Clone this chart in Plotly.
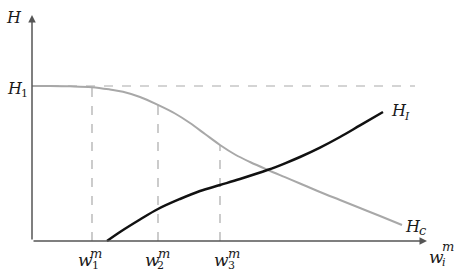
import numpy as np
import plotly.graph_objects as go

# Data (x: w_i^m units, y: H units)
hc_x = [0, 1.8, 3.8, 6.0, 7.8, 9.1, 10.8, 12.6, 14.3, 15.8, 17.3, 18.8, 20.3, 21.8, 23.6, 25.3, 26.8, 28.8, 30.8, 32.8, 34.8, 37.0]
hc_y = [15.5, 15.5, 15.47, 15.38, 15.15, 14.93, 14.4, 13.6, 12.75, 11.8, 10.7, 9.6, 8.65, 7.9, 7.1, 6.38, 5.75, 4.9, 4.1, 3.3, 2.5, 1.6]
hi_x = [7.5, 8.8, 10.8, 12.6, 14.8, 16.8, 18.8, 20.8, 23.6, 25.3, 26.8, 28.8, 30.8, 32.8, 35.1]
hi_y = [0.0, 0.9, 2.15, 3.2, 4.2, 5.0, 5.6, 6.2, 7.12, 7.77, 8.4, 9.34, 10.4, 11.56, 12.9]
H1 = 15.5
w_marks = [6.0, 12.6, 18.8]
w_subs = ["1", "2", "3"]

FONT = "DejaVu Serif"
gray = "#aaaaaa"
axis_col = "#555555"
txt = "#1a1a1a"

fig = go.Figure()

fig.add_trace(go.Scatter(x=[0, 38.3], y=[H1, H1], mode="lines",
                         line=dict(color=gray, width=1.2, dash="dash"), hoverinfo="skip"))
for wx in w_marks:
    top = float(np.interp(wx, hc_x, hc_y))
    fig.add_trace(go.Scatter(x=[wx, wx], y=[0, top], mode="lines",
                             line=dict(color=gray, width=1.2, dash="dash"), hoverinfo="skip"))

fig.add_trace(go.Scatter(x=hc_x, y=hc_y, mode="lines",
                         line=dict(color="#a8a8a8", width=2, shape="spline", smoothing=1.0),
                         hoverinfo="skip"))
fig.add_trace(go.Scatter(x=hi_x, y=hi_y, mode="lines",
                         line=dict(color="#111111", width=2.5, shape="spline", smoothing=1.0),
                         hoverinfo="skip"))

ann = []
ann.append(dict(x=0, y=22.6, ax=0, ay=0, xref="x", yref="y", axref="x", ayref="y",
                showarrow=True, arrowhead=2, arrowsize=1, arrowwidth=1.5, arrowcolor=axis_col, text=""))
ann.append(dict(x=39.5, y=0, ax=0, ay=0, xref="x", yref="y", axref="x", ayref="y",
                showarrow=True, arrowhead=2, arrowsize=1, arrowwidth=1.5, arrowcolor=axis_col, text=""))

def lab(x, y, text, size):
    ann.append(dict(x=x, y=y, xref="x", yref="y", text=text, showarrow=False, borderpad=0,
                    font=dict(family=FONT, size=size, color=txt), xanchor="center", yanchor="middle"))

MAIN, SUP, SUB = 16, 13, 11
lab(-1.85, 22.4, "<i>H</i>", MAIN)
lab(-1.75, 15.3, "<i>H</i>", MAIN)
lab(-0.75, 14.75, "1", SUB)
lab(36.65, 13.05, "<i>H</i>", MAIN)
lab(37.5, 12.45, "<i>I</i>", SUB)
lab(38.1, 1.5, "<i>H</i>", MAIN)
lab(39.05, 1.05, "<i>c</i>", SUP)

w_off = [(-0.7, 0.35, 0.4), (-0.55, 0.25, 0.6), (0.1, 1.1, 1.4)]
for wx, s, (dw, ds, dm) in zip(w_marks, w_subs, w_off):
    lab(wx + dw, -1.85, "<i>w</i>", 17)
    lab(wx + ds, -2.4, s, SUB)
    lab(wx + dm, -1.2, "<i>m</i>", SUP)
lab(40.4, -1.6, "<i>w</i>", 17)
lab(41.15, -2.15, "<i>i</i>", SUB)
lab(41.6, -0.5, "<i>m</i>", SUP)

fig.update_layout(
    width=460, height=272, margin=dict(l=0, r=0, t=0, b=0),
    paper_bgcolor="white", plot_bgcolor="white", showlegend=False,
    xaxis=dict(range=[-3.2, 42.8], visible=False, fixedrange=True),
    yaxis=dict(range=[-3.1, 24.1], visible=False, fixedrange=True),
    annotations=ann,
)
fig.write_html("out.html", config={"displayModeBar": False},
               post_script="document.body.style.margin='0px';document.body.style.overflow='hidden';")
